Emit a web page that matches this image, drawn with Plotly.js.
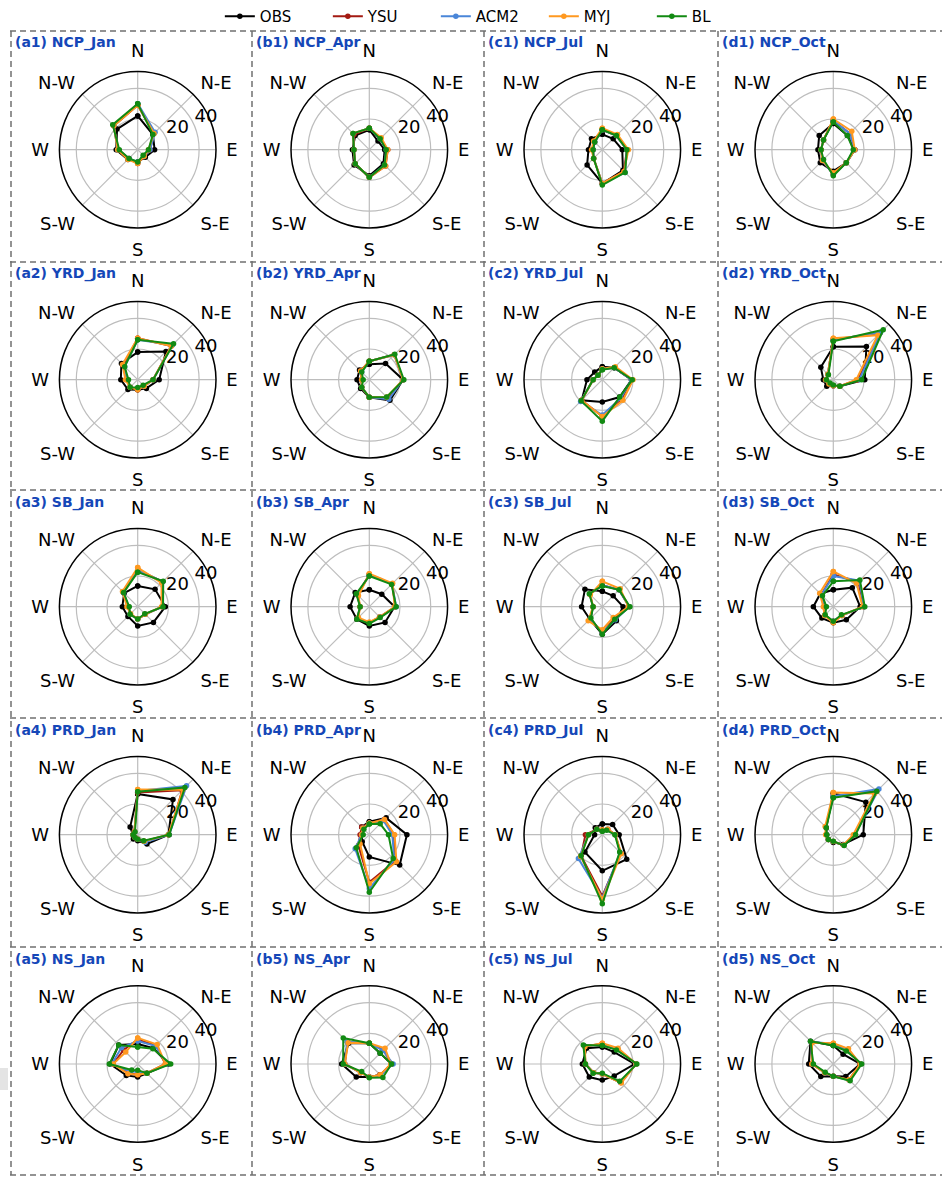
<!DOCTYPE html>
<html><head><meta charset="utf-8">
<script src="https://cdn.plot.ly/plotly-3.0.1.min.js"></script>
<style>html,body{margin:0;padding:0;background:#fff}#chart{width:942px;height:1178px}</style>
</head><body><div id="chart"></div><script>
// ---- categories / labels ----
const directions = ['N','N-E','E','S-E','S','S-W','W','N-W'];
const regions = ['NCP','YRD','SB','PRD','NS'];
const months = ['Jan','Apr','Jul','Oct'];
const seriesNames = ['OBS','YSU','ACM2','MYJ','BL'];
const radialTicks = [20, 40];

// ---- values: one row per panel (a1,b1,c1,d1,a2,...,d5), order N,NE,E,SE,S,SW,W,NW ----
const OBS = [
  [22,14,11,7,8,9,14,19],            // a1 NCP_Jan
  [13,8,10,13,17,14,11,13],          // b1 NCP_Apr
  [10,10,13,19,22,14,9,10],          // c1 NCP_Jul
  [17,13,14,12,14,12,10,13],         // d1 NCP_Oct
  [18,26,14,8,6.5,9,11,15],          // a2 YRD_Jan
  [10,15,22,19,11.5,8,8,9],          // b2 YRD_Apr
  [8.5,11,19,16,14.5,19,10,7],       // c2 YRD_Jul
  [21.5,30.5,20.5,6,4,6,6.5,11.5],   // d2 YRD_Oct
  [13.5,16,18,14.5,12.5,9,10,12.5],  // a3 SB_Jan
  [11,11.5,16.5,14.5,12.5,11.5,12.5,13], // b3 SB_Apr
  [10,10,13.5,13,18,11.5,13.5,16],   // c3 SB_Jul
  [11,17.5,17.5,12,10.5,10.5,13,12], // d3 SB_Oct
  [26.5,32.5,20,8.5,4,4,3,7],        // a4 PRD_Jan
  [8.5,15.5,24.5,28,14.5,6.5,5,7],   // b4 PRD_Apr
  [7,9.5,11,22.5,23.5,16,5,6.5],     // c4 PRD_Jul
  [27,30,19.5,9,5,4.5,4.3,6.5],      // d4 PRD_Oct
  [13,14.5,20,8.5,8.5,10.5,18,17.5], // a5 NS_Jan
  [13.5,10,14.5,10,8.5,12,18,19],    // b5 NS_Apr
  [11,11,21,11,10.5,12,13,14.5],     // c5 NS_Jul
  [12,9,17.5,11.5,8,11.5,16,21]      // d5 NS_Oct
];
const YSU = [
  [29,15,8,6,9,8,13,22],
  [14,10,12,15,18,13,10,14],
  [13,13,16,20,22,8,6,7],
  [19,15,14,12,16,10,8,9],
  [27,31,10,6,6.5,7,7,13],
  [12,23,22,17,11.5,7,5,8],
  [7,11,19,18,24,19,6,4],
  [26,43,16,6,4,3.5,5,5],
  [24,23,16,7,8,7,6,13.5],
  [21,21,17,9.5,10.5,11,6,11],
  [14,15.5,17.5,11,17,11,6,11.5],
  [21,23,20,8,9.5,8,6,11],
  [27.5,41,20.5,6,3,2.5,3,3],
  [7.5,14,16,24,31,10,6,7],
  [3,5,8.5,17,40,19.5,11,5],
  [25,40,14,9.5,4.5,4.5,4.5,7],
  [16,17,18,8.5,7,8.5,16,13],
  [13.5,13,14.5,10,8.5,8,16,20],
  [13,14,22,17,6.5,8,11,16.5],
  [13,13.5,17.5,14.5,8,8,14,20]
];
const ACM2 = [
  [30,16,8,6,8,8,13,22],
  [14,10,11,14,18,13,10,15],
  [13,13,16,21,22,8,6,7],
  [19,15,14,12,16,10,8,9],
  [26,32,10,6,6,7,7,12],
  [12,23,22,18,11.5,7,5,7],
  [7,11,19,17,23,20,6,4],
  [26,43.5,17,6,4,3.5,5,5],
  [24,23,16,7,8,7,6,13],
  [20.5,21,17.5,9.5,10.5,11,6,11],
  [14,15.5,17.5,12,17,11,6,11.5],
  [20,24,20,8,9.5,8,5,11],
  [28.5,45,20.5,7,3,2.5,3,3],
  [7.5,13,15,23,35,13,5,6],
  [2.5,4.5,8.5,16.5,41,22,9,5],
  [25,42,14,9.5,4.5,4.5,4.5,7],
  [15,16.5,19,8.5,5,7,17,15],
  [13.5,12.5,15.5,10.5,8.5,8,16,20.5],
  [13,14,22,17,6.5,8,11,16.5],
  [13,13,18,15,8,8,13.5,20.5]
];
const MYJ = [
  [29,15,7,6,9,9,13,22],
  [14,11,12,15,18,13,10,15],
  [14,14,17,20,22,8,7,8],
  [20,17,14,12,15,10,8,9],
  [27,31,10,6,6.5,7,8,14],
  [12,23,22,16,11.5,7,5,8],
  [7,12,20,19,24,19,6,4],
  [27,41,15,6,4,4,5,5],
  [25.5,22,15.5,7,8,6.5,7,14],
  [21.5,21.5,16.5,9.5,10,10,6,10],
  [16.5,16.5,17,10,15,13,6,11],
  [23,21.5,19,8,10.5,8,6.5,12.5],
  [29.5,41.5,20,6,3,2.5,3,3],
  [7.5,14,16.5,25,32,8.5,5,6],
  [3,5,8.5,17.5,42,20,9,5],
  [27.5,38,13,9.5,4.5,4.5,5,7.5],
  [17,18,18,8.5,7,9,16,11],
  [13.5,14.5,14,10,8.5,8,16,19.5],
  [13.5,14.5,22,17.5,6.5,8,11,16],
  [13.5,14,17.5,14.5,8,8,14,19.5]
];
const BL = [
  [30,14,7,5,8,8,12,23],
  [14,10,11,14,18,13,10,15],
  [13,13,16,21,23,8,6,7],
  [18,13,13,12,17,9,8,9],
  [26,33,10,5,5,7,6,12],
  [12,23.5,22.5,16,11.5,7,4,7],
  [6.5,11,19.5,16,27,19.5,6,4],
  [25,46,18.5,6,3.5,3,4.5,4.5],
  [22.5,23.5,16.5,6.5,8,7,5.5,13],
  [20,20.5,17.5,10,11,11.5,6,12],
  [13.5,15.5,18,11.5,18,10.5,6,12],
  [16.5,24.5,20.5,7.5,9.5,7.5,4.5,10],
  [28,43.5,20.5,5.5,3,2.5,3,2.5],
  [7,10,12.5,22,37.5,12,4,5],
  [2.2,4,8.2,16,45,19.5,9,5],
  [24,40,14.5,10,4.3,4.5,4.3,6.5],
  [11,14,21.5,8.5,4,5.5,18.5,17.5],
  [13.5,10,14.5,12.5,9,7,17,24],
  [12,13,22.5,16,6,8.5,11,17.5],
  [12,12,18.5,15.5,8,7.5,13,21]
];
const seriesData = [OBS, YSU, ACM2, MYJ, BL];
const seriesColors = ['#000000', '#a31a12', '#4a86d8', '#ff9920', '#128a12'];

// ---- layout geometry (pixels) ----
const W = 942, H = 1178;
const colCenters = [137.7, 369.3, 602.3, 833.3];
const rowCenters = [149.7, 379.7, 606.7, 834.7, 1064];
const R = 78.3;
const frameH = [31, 262, 490, 718, 947, 1175];
const frameV = [11, 252, 484, 718];

const dirDeg = directions.map((_, i) => i * 45);
const font = 'DejaVu Sans, Arial, sans-serif';

const traces = [];
const layout = {
  width: W, height: H,
  margin: {l: 0, r: 0, t: 0, b: 0},
  paper_bgcolor: '#fff',
  showlegend: true,
  legend: {orientation: 'h', x: 0.52, xanchor: 'center', y: 1.0, yanchor: 'top',
           entrywidth: 63, entrywidthmode: 'pixels',
           font: {family: font, size: 15, color: '#000'}, bgcolor: 'rgba(0,0,0,0)'},
  annotations: [], shapes: []
};

regions.forEach((reg, row) => {
  months.forEach((mon, col) => {
    const k = row * 4 + col;
    const name = 'polar' + (k === 0 ? '' : (k + 1));
    const cx = colCenters[col], cy = rowCenters[row];
    layout[name] = {
      domain: {x: [(cx - R) / W, (cx + R) / W], y: [1 - (cy + R) / H, 1 - (cy - R) / H]},
      bgcolor: '#fff',
      angularaxis: {
        type: 'linear', thetaunit: 'degrees', rotation: 90, direction: 'clockwise',
        tickmode: 'array', tickvals: dirDeg, ticktext: directions,
        showline: true, linecolor: '#000', linewidth: 1.5,
        showgrid: true, gridcolor: '#bdbdbd', gridwidth: 1.2,
        ticks: 'outside', ticklen: 6, tickcolor: 'rgba(0,0,0,0)',
        tickfont: {family: font, size: 18, color: '#000'}
      },
      radialaxis: {
        range: [0, 51], tickmode: 'array', tickvals: radialTicks,
        showticklabels: false, ticks: '', showline: false,
        showgrid: true, gridcolor: '#bdbdbd', gridwidth: 1.2
      }
    };
    // radial tick labels
    traces.push({
      type: 'scatterpolar', subplot: name, mode: 'text',
      r: radialTicks, theta: radialTicks.map(() => 67.5),
      text: radialTicks.map(String), textposition: 'top right',
      textfont: {family: font, size: 18, color: '#000'},
      showlegend: false, hoverinfo: 'skip'
    });
    seriesData.forEach((S, si) => {
      const vals = S[k];
      traces.push({
        type: 'scatterpolar', subplot: name, mode: 'lines+markers',
        name: seriesNames[si], legendgroup: seriesNames[si], showlegend: k === 0,
        r: vals.concat(vals[0]), theta: dirDeg.concat(dirDeg[0]),
        line: {color: seriesColors[si], width: 2},
        marker: {color: seriesColors[si], size: 5.5}
      });
    });
    layout.annotations.push({
      xref: 'paper', yref: 'paper',
      x: (frameV[col] + 2) / W, y: 1 - (frameH[row] + 12) / H,
      xanchor: 'left', yanchor: 'middle', showarrow: false,
      text: '<b>(' + 'abcd'[col] + (row + 1) + ') ' + reg + '_' + mon + '</b>',
      font: {family: font, size: 14, color: '#1547b8'}
    });
  });
});

// dashed panel frames
const dashLine = {color: '#707070', width: 1.5, dash: '6px,4px'};
frameH.forEach(y => layout.shapes.push({type: 'line', xref: 'paper', yref: 'paper',
  x0: 10 / W, x1: 1, y0: 1 - y / H, y1: 1 - y / H, line: dashLine}));
frameV.forEach(x => layout.shapes.push({type: 'line', xref: 'paper', yref: 'paper',
  x0: x / W, x1: x / W, y0: 1 - frameH[0] / H, y1: 1 - frameH[5] / H, line: dashLine}));
layout.shapes.push({type: 'rect', xref: 'paper', yref: 'paper', x0: 0, x1: 8 / W,
  y0: 1 - 1090 / H, y1: 1 - 1068 / H, fillcolor: '#e4e4e4', line: {width: 0}, layer: 'below'});

Plotly.newPlot('chart', traces, layout, {displayModeBar: false, staticPlot: true});
</script></body></html>
